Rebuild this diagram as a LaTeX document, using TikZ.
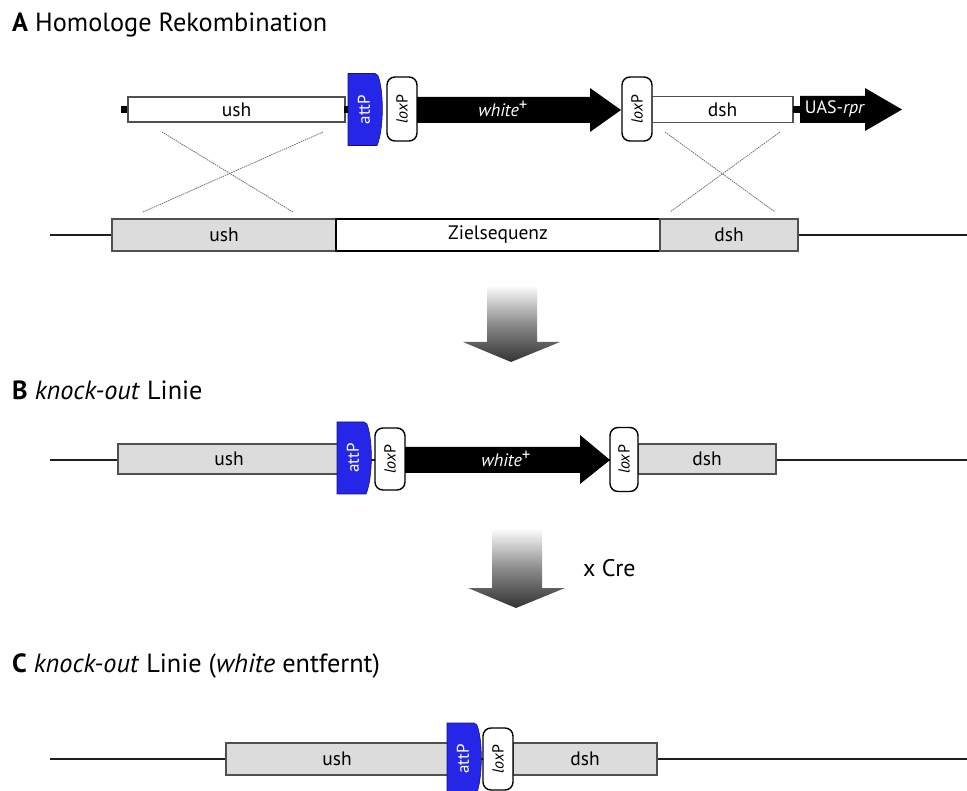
\documentclass[tikz,border=0pt]{standalone}
\usepackage{fontspec}
\setmainfont{PT Sans}
\usetikzlibrary{calc}
\definecolor{attpblue}{RGB}{38,38,232}
\definecolor{attpedge}{RGB}{20,20,120}
\definecolor{segfill}{RGB}{220,220,220}
\definecolor{segedge}{RGB}{80,80,80}
\definecolor{dnaline}{RGB}{30,30,30}
\newcommand{\attPshape}[3]{% cx, cy, name
  \fill[attpblue, draw=attpedge, line width=0.6pt]
    ($(#1,#2)+(-17,-36)$) [rounded corners=2pt] -- ($(#1,#2)+(12,-36)$) [sharp corners]
    .. controls ($(#1,#2)+(19,-20)$) and ($(#1,#2)+(19,20)$) .. ($(#1,#2)+(12,36)$)
    -- ($(#1,#2)+(-17,36)$) -- cycle;
  \node[attptext] (#3) at ($(#1,#2)+(-1,0)$) {attP};
}
\newcommand{\plussup}{\raisebox{0.32em}{\upshape\fontsize{17}{17}\selectfont +}}
\begin{document}
\begin{tikzpicture}[x=1pt,y=-1pt,
  title/.style={anchor=base west, inner sep=0, font=\fontsize{26.3}{26.3}\selectfont},
  seg/.style={draw=segedge, line width=1.6pt, inner sep=0, font=\fontsize{19.5}{19.5}\selectfont},
  graybox/.style={seg, fill=segfill},
  whitebox/.style={seg, fill=white},
  dna/.style={draw=dnaline, line width=2.6pt},
  loxbox/.style={draw=black, fill=white, line width=1.4pt, rounded corners=8pt, rotate=90,
     minimum width=64pt, minimum height=30pt, inner sep=0, font=\fontsize{16}{16}\selectfont},
  attptext/.style={rotate=90, text=white, inner sep=0, font=\fontsize{17}{17}\selectfont},
  arrtext/.style={text=white, inner sep=0, font=\fontsize{18}{18}\selectfont\itshape},
  stubbox/.style={fill=black, minimum width=7pt, minimum height=7pt, inner sep=0},
  crossline/.style={draw=black!55, line width=0.8pt, dash pattern=on 1.5pt off 0.8pt},
  bigarrow/.style={top color=white, bottom color=black!80, middle color=black!45}
]
\useasboundingbox (0,0) rectangle (967,791);

% ---------------- A ----------------
\node[title] (tA) at (12,32) {\textbf{A} Homologe Rekombination};

% upper construct
\node[stubbox] (stubL) at (124.5,109.5) {};
\node[whitebox, minimum width=217pt, minimum height=25pt] (ushA) at (236.5,109.5) {ush};
\fill[black] (344,106) rectangle (350,113);
\attPshape{365}{109.5}{attPA}
\node[loxbox] (loxA1) at (402,109) {\textit{lox}P};
\fill[black] (417,97) -- (590,97) -- (590,88) -- (621,110) -- (590,132) -- (590,123) -- (417,123) -- cycle;
\node[arrtext] (whA) at (503,109) {white\plussup};
\node[loxbox] (loxA2) at (637,109) {\textit{lox}P};
\node[whitebox, minimum width=141pt, minimum height=26pt] (dshA) at (722.5,109.5) {dsh};
\node[stubbox] (stubR) at (796.5,109.5) {};
\fill[black] (800,96) -- (865,96) -- (865,88) -- (902,109.5) -- (865,131) -- (865,123) -- (800,123) -- cycle;
\node[text=white, inner sep=0, font=\fontsize{18}{18}\selectfont] (uas) at (835,109) {UAS-\textit{rpr}};

% lower genomic line
\coordinate (gAl) at (50,235);
\coordinate (gAr) at (967,235);
\draw[dna] (gAl) -- (gAr);
\node[graybox, minimum width=224pt, minimum height=32pt] (ushG) at (224,235) {ush};
\node[whitebox, draw=black, minimum width=324pt, minimum height=32pt] (ziel) at (498,235) {Zielsequenz};
\node[graybox, minimum width=138pt, minimum height=32pt] (dshG) at (729,235) {dsh};

% crossing lines
\coordinate (c1a) at (162,132); \coordinate (c1b) at (293,212);
\coordinate (c2a) at (323,132); \coordinate (c2b) at (143,212);
\coordinate (c3a) at (665,132); \coordinate (c3b) at (775,212);
\coordinate (c4a) at (780,132); \coordinate (c4b) at (670,212);
\draw[crossline] (c1a) -- (c1b);
\draw[crossline] (c2a) -- (c2b);
\draw[crossline] (c3a) -- (c3b);
\draw[crossline] (c4a) -- (c4b);

% big arrow 1
\shade[bigarrow] (487,285) -- (537,285) -- (537,342) -- (560,342) -- (511,362) -- (463,342) -- (487,342) -- cycle;

% ---------------- B ----------------
\node[title] (tB) at (12,400) {\textbf{B} \textit{knock-out} Linie};
\coordinate (gBl) at (50,460);
\coordinate (gBr) at (967,460);
\draw[dna] (gBl) -- (gBr);
\node[graybox, minimum width=222pt, minimum height=30pt] (ushB) at (229,459) {ush};
\attPshape{354}{458}{attPB}
\node[loxbox, minimum width=62pt] (loxB1) at (390,459) {\textit{lox}P};
\fill[black] (405,447) -- (580,447) -- (580,435) -- (610,460) -- (580,484) -- (580,473) -- (405,473) -- cycle;
\node[arrtext] (whB) at (506,459) {white\plussup};
\node[graybox, minimum width=138pt, minimum height=30pt] (dshB) at (707,459) {dsh};
\node[loxbox, minimum width=64pt, minimum height=28pt] (loxB2) at (624,459.5) {\textit{lox}P};

% big arrow 2
\shade[bigarrow] (492,528) -- (542,528) -- (542,588) -- (565,588) -- (516,608) -- (468,588) -- (492,588) -- cycle;
\node[anchor=west, inner sep=0, font=\fontsize{24}{24}\selectfont] (cre) at (583,568) {x Cre};

% ---------------- C ----------------
\node[title] (tC) at (12,672) {\textbf{C} \textit{knock-out} Linie (\textit{white} entfernt)};
\coordinate (gCl) at (50,759);
\coordinate (gCr) at (967,759);
\draw[dna] (gCl) -- (gCr);
\node[graybox, minimum width=222pt, minimum height=32pt] (ushC) at (337,759) {ush};
\node[graybox, minimum width=144pt, minimum height=32pt] (dshC) at (585,759) {dsh};
\attPshape{464}{759}{attPC}
\node[loxbox, minimum width=62pt] (loxC) at (498,759) {\textit{lox}P};
\end{tikzpicture}
\end{document}
